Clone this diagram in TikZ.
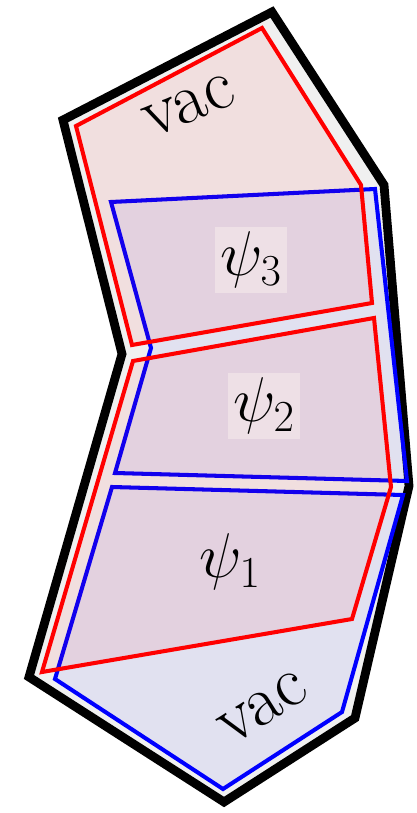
\documentclass[tikz,border=0pt]{standalone}
\usepackage{fix-cm}
\usepackage{tikz}
\usetikzlibrary{positioning}

\definecolor{margingray}{RGB}{240,240,240}
\definecolor{labelpink}{RGB}{238,224,230}

\tikzset{
    outerwall/.style={draw=black, line width=5pt, fill=margingray, line join=miter},
    redpatch/.style={draw=red, line width=2.3pt, fill=red, fill opacity=0.07},
    bluepatch/.style={draw=blue, line width=2.3pt, fill=blue, fill opacity=0.06},
    statelabel/.style={font=\fontsize{36}{42}\selectfont, fill=labelpink, inner sep=3pt},
    vaclabel/.style={font=\fontsize{41}{46}\selectfont}
}

\begin{document}
\begin{tikzpicture}[x=0.02cm, y=-0.02cm]
    \useasboundingbox (0,0) rectangle (416,813);

    % outer boundary
    \draw[outerwall] (272,12) -- (384,185) -- (409,486) -- (355,718) -- (224,802) -- (29,677) -- (122,354) -- (63,120) -- cycle;

    % blue patches
    \draw[bluepatch] (111,202) -- (375,189) -- (407,481) -- (115,473) -- (151,348) -- cycle;
    \draw[bluepatch] (112,487) -- (403,495) -- (342,712) -- (223,789) -- (55,679) -- cycle;

    % red patches
    \draw[redpatch] (76,126) -- (262,28) -- (361,185) -- (372,303) -- (132,345) -- cycle;
    \draw[redpatch] (133,361) -- (374,318) -- (391,487) -- (352,619) -- (42,672) -- cycle;

    % labels
    \node[vaclabel, rotate=22] (vactop) at (189,106) {vac};
    \node[statelabel] (psithree) at (251,260) {$\psi_3$};
    \node[statelabel] (psitwo) at (264,406) {$\psi_2$};
    \node[statelabel, fill=none] (psione) at (230,562) {$\psi_1$};
    \node[vaclabel, rotate=32] (vacbottom) at (263,708) {vac};
\end{tikzpicture}
\end{document}
